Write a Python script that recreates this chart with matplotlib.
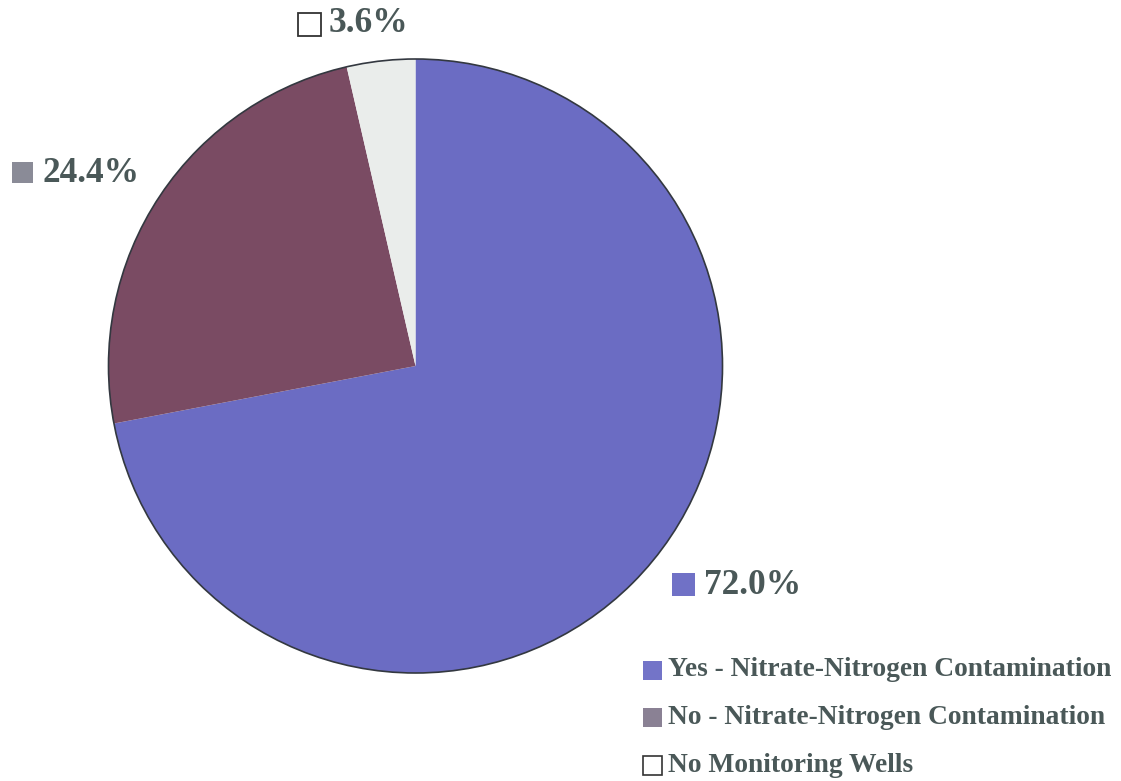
import matplotlib
matplotlib.use("Agg")
import matplotlib.pyplot as plt
from matplotlib.patches import Rectangle, Circle

# data
categories = ["Yes - Nitrate-Nitrogen Contamination",
              "No - Nitrate-Nitrogen Contamination",
              "No Monitoring Wells"]
values = [72.0, 24.4, 3.6]
pct_labels = ["72.0%", "24.4%", "3.6%"]

slice_colors = ["#6b6cc3", "#7a4b63", "#eaedeb"]
label_box_colors = ["#7071c6", "#8a8b97", "white"]
legend_box_colors = ["#7374c8", "#8a8194", "white"]
txt_color = "#4a5858"

W, H = 1121, 781
fig = plt.figure(figsize=(W / 100, H / 100), dpi=100)
ax = fig.add_axes([0, 0, 1, 1])

def fy(y):
    return H - y

cx, cy, r = 415.5, 366, 307
ax.pie(values, colors=slice_colors, startangle=90, counterclock=False,
       center=(cx, fy(cy)), radius=r, wedgeprops=dict(linewidth=0))
ax.add_patch(Circle((cx, fy(cy)), r, fill=False, edgecolor="#333840", linewidth=1.2))

font = dict(family="Liberation Serif", weight="bold", color=txt_color)

# percentage labels (square x, square top y, size, text x, text center y)
lab_pos = [(672, 573, 23, 704, 585), (12, 162, 21, 42, 173), (298, 13, 23, 329, 24)]
for i, (sx, sy, s, tx, ty) in enumerate(lab_pos):
    ax.add_patch(Rectangle((sx, fy(sy + s)), s, s, facecolor=label_box_colors[i],
                           edgecolor="#333333" if i == 2 else "none", linewidth=1.3))
    ax.text(tx, fy(ty), pct_labels[i], fontsize=25.5, va="center", ha="left", **font)

# legend
leg_y = [670, 717, 765]
for i, name in enumerate(categories):
    s = 19
    ax.add_patch(Rectangle((643, fy(leg_y[i] + s / 2)), s, s, facecolor=legend_box_colors[i],
                           edgecolor="#333333" if i == 2 else "none", linewidth=1.2))
    ax.text(668, fy(leg_y[i]), name, fontsize=19.8, va="center", ha="left", **font)

ax.set_xlim(0, W)
ax.set_ylim(0, H)
ax.set_aspect("auto")
ax.axis("off")

fig.savefig("out.png", dpi=100)
